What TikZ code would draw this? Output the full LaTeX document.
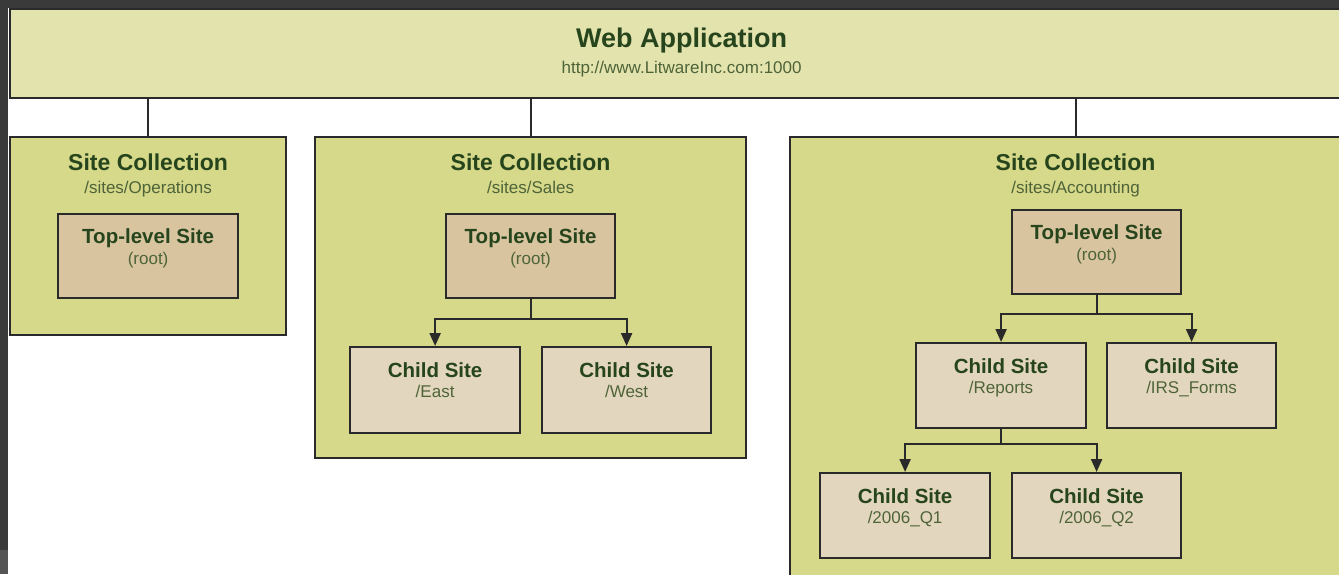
\documentclass[tikz,border=0pt]{standalone}
\usepackage{fontspec}
\setmainfont{Liberation Sans}
\usetikzlibrary{arrows.meta}

\definecolor{frame}{HTML}{3A3A3A}
\definecolor{framelt}{HTML}{555555}
\definecolor{edge}{HTML}{2A2A2A}
\definecolor{webfill}{HTML}{E3E3AE}
\definecolor{collfill}{HTML}{D6D88A}
\definecolor{topfill}{HTML}{D9C4A0}
\definecolor{childfill}{HTML}{E3D6BE}
\definecolor{ttlgreen}{HTML}{27451C}
\definecolor{subgreen}{HTML}{4E6438}

\begin{document}
\begin{tikzpicture}[x=1pt, y=-1pt,
box/.style = {rectangle, draw=edge, line width=2.2pt, anchor=north west, inner sep=0pt},
webbox/.style = {box, fill=webfill},
collbox/.style = {box, fill=collfill},
topbox/.style = {box, fill=topfill},
childbox/.style = {box, fill=childfill},
wttl/.style = {anchor=base, inner sep=0pt, text=ttlgreen, font=\fontsize{27}{30}\selectfont\bfseries},
cttl/.style = {anchor=base, inner sep=0pt, text=ttlgreen, font=\fontsize{23}{26}\selectfont\bfseries},
sttl/.style = {anchor=base, inner sep=0pt, text=ttlgreen, font=\fontsize{20.5}{23}\selectfont\bfseries},
sub/.style = {anchor=base, inner sep=0pt, text=subgreen, font=\fontsize{17}{19}\selectfont},
conn/.style = {draw=edge, line width=2.2pt},
conarr/.style = {conn, -{Triangle[length=13pt, width=11pt]}}]
\useasboundingbox (0,0) rectangle (1339,574);
\clip (0,0) rectangle (1339,574);
\fill[frame] (0,0) rectangle (1339,574);
\fill[white] (8,8) rectangle (1339,574);
\fill[framelt] (0,550) rectangle (8,574);
% web application
\node[webbox, minimum width=1343pt, minimum height=89pt] at (9,8) (webapp) {};
\node[wttl] at ([yshift=-39pt]webapp.north) (webapp-t) {Web Application};
\node[sub] at ([yshift=-65pt]webapp.north) (webapp-s) {http://www.LitwareInc.com:1000};
% site collections
\node[collbox, minimum width=276pt, minimum height=198pt] at (9,136) (coll1) {};
\node[collbox, minimum width=431pt, minimum height=321pt] at (314,136) (coll2) {};
\node[collbox, minimum width=571pt, minimum height=470pt] at (789,136) (coll3) {};
\foreach \c/\s in {coll1/{/sites/Operations}, coll2/{/sites/Sales}, coll3/{/sites/Accounting}} {
  \node[cttl] at ([yshift=-34pt]\c.north) (\c-t) {Site Collection};
  \node[sub] at ([yshift=-57pt]\c.north) (\c-s) {\s};
  \draw[conn] (webapp.south -| \c.north) -- (\c.north);
}
% sites
\node[topbox, minimum width=180pt, minimum height=84pt] at (57,213) (top1) {};
\node[topbox, minimum width=169pt, minimum height=84pt] at (445,213) (top2) {};
\node[topbox, minimum width=169pt, minimum height=84pt] at (1011,209) (top3) {};
\node[childbox, minimum width=170pt, minimum height=86pt] at (349,346) (east) {};
\node[childbox, minimum width=169pt, minimum height=86pt] at (541,346) (west) {};
\node[childbox, minimum width=170pt, minimum height=85pt] at (915,342) (reports) {};
\node[childbox, minimum width=169pt, minimum height=85pt] at (1106,342) (irs) {};
\node[childbox, minimum width=170pt, minimum height=85pt] at (819,472) (q1) {};
\node[childbox, minimum width=169pt, minimum height=85pt] at (1011,472) (q2) {};
\foreach \b in {top1, top2, top3} {
  \node[sttl] at ([yshift=-30pt]\b.north) (\b-t) {Top-level Site};
  \node[sub] at ([yshift=-51pt]\b.north) (\b-s) {(root)};
}
\foreach \b/\s in {east/{/East}, west/{/West}, reports/{/Reports}, irs/{/IRS\_Forms}, q1/{/2006\_Q1}, q2/{/2006\_Q2}} {
  \node[sttl] at ([yshift=-31pt]\b.north) (\b-t) {Child Site};
  \node[sub] at ([yshift=-51pt]\b.north) (\b-s) {\s};
}
% branches
\coordinate (b2) at ([yshift=-20pt]top2.south);
\coordinate (b3) at ([yshift=-19pt]top3.south);
\coordinate (b4) at ([yshift=-15pt]reports.south);
\draw[conn] (top2.south) -- (b2);
\draw[conarr] (b2) -| (east.north);
\draw[conarr] (b2) -| (west.north);
\draw[conn] (top3.south) -- (b3);
\draw[conarr] (b3) -| (reports.north);
\draw[conarr] (b3) -| (irs.north);
\draw[conn] (reports.south) -- (b4);
\draw[conarr] (b4) -| (q1.north);
\draw[conarr] (b4) -| (q2.north);
\end{tikzpicture}
\end{document}
